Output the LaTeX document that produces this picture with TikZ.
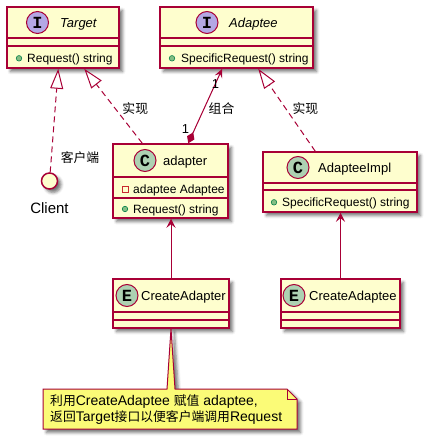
\documentclass[tikz,border=0pt]{standalone}
\usepackage{fontspec}
\setmainfont{Liberation Sans}
\setmonofont{Liberation Mono}
\newfontfamily\cjk[Scale=0.915]{Noto Sans CJK SC}
\usetikzlibrary{arrows.meta}
\usetikzlibrary{calc}
\usetikzlibrary{shadows.blur}
\definecolor{umlred}{HTML}{A80036}
\definecolor{classfill}{HTML}{FEFECE}
\definecolor{notefill}{HTML}{FBFB77}
\definecolor{ifill}{HTML}{B4A7E5}
\definecolor{cfill}{HTML}{ADD1B2}
\definecolor{pubfill}{HTML}{84BE84}
\definecolor{publine}{HTML}{038048}
\definecolor{privline}{HTML}{C82930}
\tikzset{
umlshadow/.style={blur shadow={shadow xshift=3.5pt, shadow yshift=-3.5pt, shadow blur radius=3pt, shadow opacity=55}},
classbox/.style={draw=umlred, line width=1.5pt, fill=classfill, umlshadow, inner sep=0pt},
sepline/.style={draw=umlred, line width=1.5pt},
badge/.style={circle, draw=umlred, line width=1pt, minimum size=22pt, inner sep=0pt,
  font=\ttfamily\bfseries\fontsize{17}{17}\selectfont},
clsname/.style={anchor=base west, inner sep=0pt, font=\fontsize{13}{15}\selectfont},
member/.style={anchor=base west, inner sep=0pt, font=\fontsize{12}{14}\selectfont},
pubdot/.style={circle, draw=publine, fill=pubfill, line width=0.6pt, minimum size=5.5pt, inner sep=0pt},
privbox/.style={rectangle, draw=privline, line width=0.8pt, minimum size=6pt, inner sep=0pt},
conn/.style={draw=umlred, line width=1pt},
realize/.style={conn, dash pattern=on 6pt off 4pt, -{Triangle[open, length=20pt, width=13pt]}},
usearrow/.style={conn, -{Stealth[length=9pt, width=9pt, inset=3.5pt]}},
edgelabel/.style={inner sep=0pt, font=\cjk\fontsize{14}{15}\selectfont},
multlabel/.style={inner sep=0pt, font=\fontsize{13}{15}\selectfont},
}

\begin{document}
\begin{tikzpicture}[x=1pt, y=-1pt]
\useasboundingbox (0,0) rectangle (430,438);

% classes
\node[classbox, minimum width=112pt, minimum height=61pt] (target) at (63,37.5) {};
\draw[sepline] (target.west |- 0,38) -- (target.east |- 0,38);
\draw[sepline] (target.west |- 0,46) -- (target.east |- 0,46);
\node[badge, fill=ifill] (targeticon) at (37.5,22.5) {I};
\node[clsname] (targetname) at (60,27.2) {\itshape Target};
\node[pubdot] (targetdot) at (19,58.3) {};
\node[member] (targetop) at (27,62.6) {Request() string};

\node[classbox, minimum width=153pt, minimum height=61pt] (adaptee) at (236.5,37.5) {};
\draw[sepline] (adaptee.west |- 0,38) -- (adaptee.east |- 0,38);
\draw[sepline] (adaptee.west |- 0,46) -- (adaptee.east |- 0,46);
\node[badge, fill=ifill] (adapteeicon) at (207,22.5) {I};
\node[clsname] (adapteename) at (229,27.2) {\itshape Adaptee};
\node[pubdot] (adapteedot) at (172,58.3) {};
\node[member] (adapteeop) at (181,62.6) {SpecificRequest() string};

\node[classbox, minimum width=115pt, minimum height=74pt] (adapter) at (170.5,181) {};
\draw[sepline] (adapter.west |- 0,177) -- (adapter.east |- 0,177);
\draw[sepline] (adapter.west |- 0,198) -- (adapter.east |- 0,198);
\node[badge, fill=cfill] (adaptericon) at (145,160.5) {C};
\node[clsname] (adaptername) at (163,165.4) {adapter};
\node[privbox] (adapterbox) at (125,189) {};
\node[member] (adapterfield) at (133,193.3) {adaptee Adaptee};
\node[pubdot] (adapterdot) at (125,209) {};
\node[member] (adapterop) at (133,213.3) {Request() string};

\node[classbox, minimum width=154pt, minimum height=60pt] (impl) at (340,182) {};
\draw[sepline] (impl.west |- 0,183) -- (impl.east |- 0,183);
\draw[sepline] (impl.west |- 0,190) -- (impl.east |- 0,190);
\node[badge, fill=cfill] (implicon) at (298,167.5) {C};
\node[clsname] (implname) at (318,172.4) {AdapteeImpl};
\node[pubdot] (impldot) at (274,202.3) {};
\node[member] (implop) at (282,206.6) {SpecificRequest() string};

\node[classbox, minimum width=116pt, minimum height=49pt] (mkadapter) at (171,303.5) {};
\draw[sepline] (mkadapter.west |- 0,312) -- (mkadapter.east |- 0,312);
\draw[sepline] (mkadapter.west |- 0,320) -- (mkadapter.east |- 0,320);
\node[badge, fill=cfill] (mkadaptericon) at (127,295.5) {E};
\node[clsname] (mkadaptername) at (141,300.6) {CreateAdapter};

\node[classbox, minimum width=119pt, minimum height=49pt] (mkadaptee) at (340.5,303.5) {};
\draw[sepline] (mkadaptee.west |- 0,312) -- (mkadaptee.east |- 0,312);
\draw[sepline] (mkadaptee.west |- 0,320) -- (mkadaptee.east |- 0,320);
\node[badge, fill=cfill] (mkadapteeicon) at (294,295.5) {E};
\node[clsname] (mkadapteename) at (309,300.6) {CreateAdaptee};

% client
\node[circle, draw=umlred, line width=1.5pt, fill=classfill, minimum size=16pt, inner sep=0pt, umlshadow] (client) at (49.5,181) {};
\node[inner sep=0pt, font=\fontsize{15}{17}\selectfont] (clientname) at (49.5,208) {Client};

% relations
\draw[realize] (client) -- ($(target.south west)+(52,0)$) node[edgelabel, pos=0.14, right=9pt] {客户端};
\draw[realize] ($(adapter.north west)+(30,0)$) -- ($(target.south west)+(78,0)$) node[edgelabel, pos=0.47, right=7pt] {实现};
\draw[conn, {Diamond[length=12pt, width=8pt]}-{Stealth[length=9pt, width=8pt, inset=3.5pt]}, fill=umlred]
  ($(adapter.north west)+(76,0)$) -- ($(adaptee.south west)+(63,0)$) node[edgelabel, pos=0.47, right=4pt] {组合};
\node[multlabel] (multtop) at (215.5,84) {1};
\node[multlabel] (multbottom) at (185.5,129) {1};
\draw[realize] ($(impl.north west)+(53,0)$) -- ($(adaptee.south west)+(99,0)$) node[edgelabel, pos=0.52, right=6.5pt] {实现};
\draw[usearrow] (mkadapter.north) -- (mkadapter.north |- adapter.south);
\draw[usearrow] (mkadaptee.north) -- (mkadaptee.north |- impl.south);

% note
\path[fill=notefill, draw=umlred, line width=1pt, umlshadow]
  (43,389) -- (167,389) -- (mkadapter.south) -- (175,389) -- (287,389) -- (297,399) -- (297,429) -- (43,429) -- cycle;
\draw[conn] (287,389) -- (287,399) -- (297,399);
\node[anchor=west, align=left, inner sep=0pt, font=\fontsize{14}{15.6}\selectfont] (note) at (50,409.5)
  {{\cjk 利用}CreateAdaptee {\cjk 赋值} adaptee,\\{\cjk 返回}Target{\cjk 接口以便客户端调用}Request};
\end{tikzpicture}
\end{document}
